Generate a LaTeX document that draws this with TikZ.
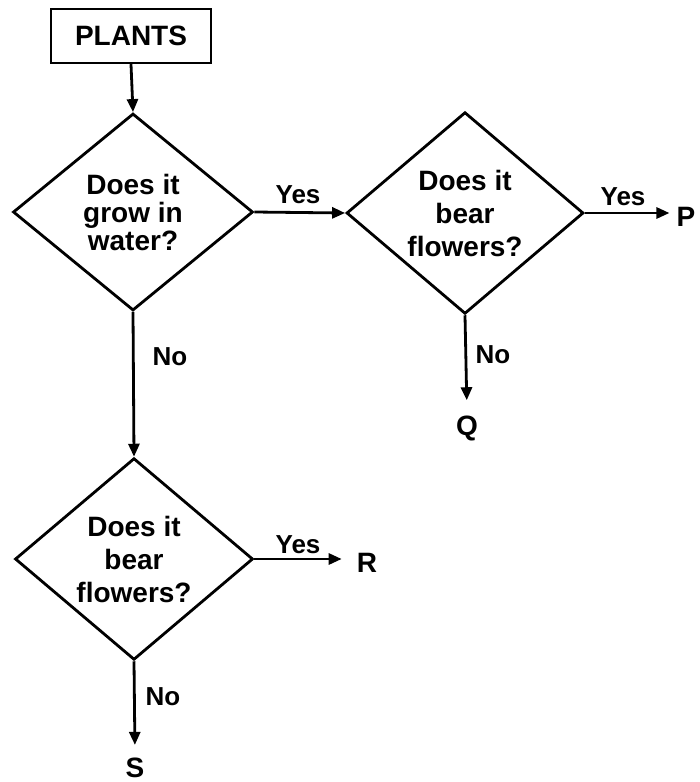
\documentclass[tikz,border=0pt]{standalone}
\usepackage{fontspec}
\setmainfont{Liberation Sans}
\usetikzlibrary{shapes.geometric,arrows.meta}
\begin{document}
\begin{tikzpicture}[x=1pt,y=-1pt,
  ln/.style={line width=2.8pt},
  arr/.style={ln,-{Triangle[length=13pt,width=11pt]}},
  dia/.style={diamond,draw,ln,inner sep=0pt,align=center,font=\bfseries\fontsize{28}{33}\selectfont},
  lbl/.style={font=\bfseries\fontsize{26}{28}\selectfont,inner sep=0pt},
  letter/.style={font=\bfseries\fontsize{28}{30}\selectfont,inner sep=3pt}]
\useasboundingbox (0,0) rectangle (700,782);
\node[draw,line width=2.4pt,minimum width=160pt,minimum height=54pt,inner sep=0pt,font=\bfseries\fontsize{28}{30}\selectfont] (plants) at (131,36) {PLANTS};
\node[dia,minimum width=240pt,minimum height=197pt,font=\bfseries\fontsize{28}{28}\selectfont] (d1) at (133,212) {Does it\\grow in\\water?};
\node[dia,minimum width=237pt,minimum height=198pt] (d2) at (465,213) {Does it\\bear\\flowers?};
\node[dia,minimum width=238pt,minimum height=197pt] (d3) at (134,559) {Does it\\bear\\flowers?};
\node[letter] (P) at (686,217) {P};
\node[letter] (Q) at (467,428) {Q};
\node[letter] (R) at (367,563) {R};
\node[letter] (S) at (135,768) {S};
\draw[arr] (plants.south) -- (d1.north);
\draw[arr] (d1.east) -- (d2.west);
\draw[arr,shorten >=4pt] (d2.east) -- (d2.east -| P.west);
\draw[arr,shorten >=12pt] (d2.south) -- (Q.north);
\draw[arr] (d1.south) -- (d3.north);
\draw[arr,shorten >=12pt] (d3.east) -- (d3.east -| R.west);
\draw[arr,shorten >=10pt] (d3.south) -- (S.north);
\node[lbl] (yes1) at (298,195) {Yes};
\node[lbl] (yes2) at (623,197) {Yes};
\node[lbl] (yes3) at (298,545) {Yes};
\node[lbl] (no1) at (170,357) {No};
\node[lbl] (no2) at (493,355) {No};
\node[lbl] (no3) at (163,697) {No};
\end{tikzpicture}
\end{document}
